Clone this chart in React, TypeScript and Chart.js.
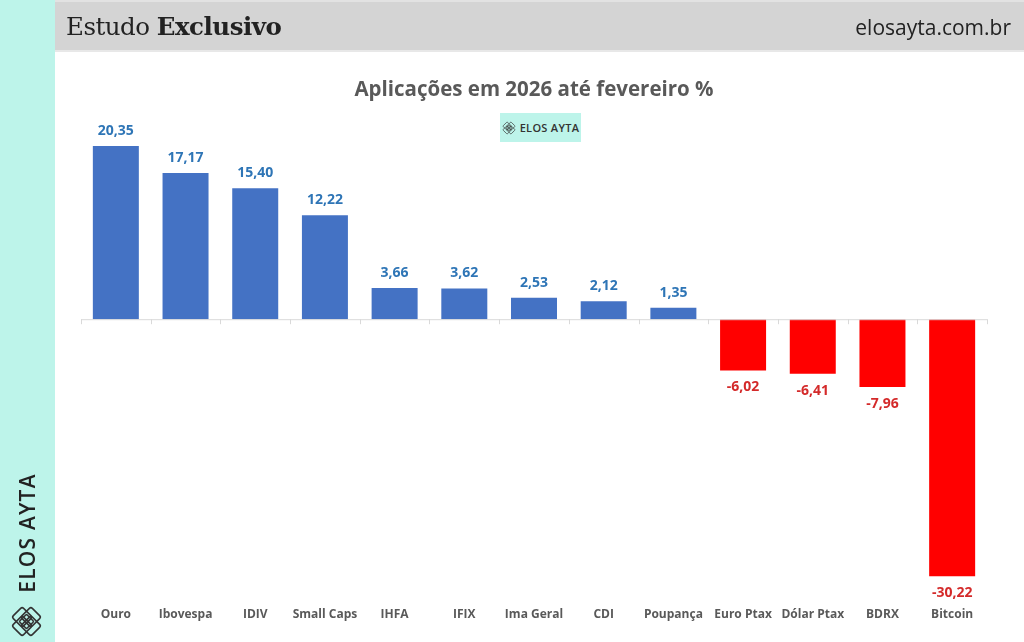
import React, { useEffect, useRef } from "react";
import { Chart, registerables } from "chart.js";

Chart.register(...registerables);

const categories = [
  "Ouro",
  "Ibovespa",
  "IDIV",
  "Small Caps",
  "IHFA",
  "IFIX",
  "Ima Geral",
  "CDI",
  "Poupança",
  "Euro Ptax",
  "Dólar Ptax",
  "BDRX",
  "Bitcoin",
];
const values = [20.35, 17.17, 15.4, 12.22, 3.66, 3.62, 2.53, 2.12, 1.35, -6.02, -6.41, -7.96, -30.22];

const BLUE = "#4472c4";
const RED = "#ff0000";
const LABEL_BLUE = "#2e75b6";
const LABEL_RED = "#d42a2a";

const fmt = (v: number) => v.toFixed(2).replace(".", ",");

const Logo = ({ size }: { size: number }) => (
  <svg width={size} height={size} viewBox="0 0 32 32">
    <g fill="none" stroke="#333" strokeWidth="1.5" transform="rotate(45 16 16)">
      <rect x="9" y="3" width="14" height="14" rx="2" />
      <rect x="9" y="15" width="14" height="14" rx="2" />
      <rect x="3" y="9" width="14" height="14" rx="2" />
      <rect x="15" y="9" width="14" height="14" rx="2" />
      <rect x="11" y="11" width="10" height="10" rx="1" />
    </g>
  </svg>
);

export default function App() {
  const ref = useRef<HTMLCanvasElement | null>(null);

  useEffect(() => {
    if (!ref.current) return;
    const axisPlugin = {
      id: "zeroAxis",
      afterDatasetsDraw(chart: any) {
        const { ctx, chartArea, scales } = chart;
        const y0 = scales.y.getPixelForValue(0);
        ctx.save();
        ctx.strokeStyle = "#d9d9d9";
        ctx.lineWidth = 1;
        ctx.beginPath();
        ctx.moveTo(chartArea.left, y0 + 0.5);
        ctx.lineTo(chartArea.right, y0 + 0.5);
        const n = categories.length;
        const w = (chartArea.right - chartArea.left) / n;
        for (let i = 0; i <= n; i++) {
          const x = Math.round(chartArea.left + i * w) + 0.5;
          ctx.moveTo(x, y0);
          ctx.lineTo(x, y0 + 5);
        }
        ctx.stroke();
        // data labels
        const meta = chart.getDatasetMeta(0);
        ctx.font = "bold 14px 'Open Sans'";
        ctx.textAlign = "center";
        ctx.textBaseline = "middle";
        meta.data.forEach((bar: any, i: number) => {
          const v = values[i];
          if (v >= 0) {
            ctx.fillStyle = LABEL_BLUE;
            ctx.fillText(fmt(v), bar.x, bar.y - 15);
          } else {
            ctx.fillStyle = LABEL_RED;
            ctx.fillText(fmt(v), bar.x, bar.y + 17);
          }
        });
        ctx.restore();
      },
    };

    const chart = new Chart(ref.current, {
      type: "bar",
      data: {
        labels: categories,
        datasets: [
          {
            data: values,
            backgroundColor: values.map((v) => (v >= 0 ? BLUE : RED)),
            barPercentage: 0.66,
            categoryPercentage: 1,
          },
        ],
      },
      options: {
        animation: false,
        responsive: false,
        layout: { padding: { left: 81, right: 37, top: 132, bottom: 0 } },
        plugins: { legend: { display: false }, tooltip: { enabled: false }, title: { display: false } },
        scales: {
          x: {
            grid: { display: false, drawTicks: false },
            border: { display: false },
            ticks: {
              color: "#595959",
              font: { family: "'Open Sans'", size: 12, weight: 700 },
              padding: 7,
              maxRotation: 0,
              autoSkip: false,
            },
            afterFit: (scale: any) => {
              scale.height = 42;
            },
          },
          y: {
            display: false,
            min: -33,
            max: 22,
          },
        },
      },
      plugins: [axisPlugin],
    });
    return () => chart.destroy();
  }, []);

  return (
    <div
      style={{
        position: "fixed",
        left: 0,
        top: 0,
        width: 1024,
        height: 642,
        background: "#ffffff",
        overflow: "hidden",
        fontFamily: "'Open Sans', sans-serif",
      }}
    >
      <div style={{ position: "absolute", left: 0, top: 0, width: 55, height: 642, background: "#bdf4ea" }} />
      <div
        style={{
          position: "absolute",
          left: 55,
          top: 0,
          width: 969,
          height: 52,
          background: "#d4d4d4",
          borderTop: "2px solid #e2e2e2",
          borderBottom: "2px solid #e8e8e8",
          boxSizing: "border-box",
        }}
      />
      <canvas ref={ref} width={1024} height={642} style={{ position: "absolute", left: 0, top: 0, width: 1024, height: 642 }} />
      <div
        style={{
          position: "absolute",
          left: 66,
          top: 9,
          fontFamily: "'DejaVu Serif', serif",
          fontSize: 24.5,
          color: "#222",
          whiteSpace: "nowrap",
          lineHeight: "36px",
          letterSpacing: -0.5,
        }}
      >
        Estudo <b>Exclusivo</b>
      </div>
      <div
        style={{
          position: "absolute",
          right: 13,
          top: 12,
          fontSize: 21,
          color: "#222",
          whiteSpace: "nowrap",
          lineHeight: "30px",
        }}
      >
        elosayta.com.br
      </div>
      <div
        style={{
          position: "absolute",
          left: 81,
          width: 906,
          top: 73,
          textAlign: "center",
          fontSize: 20.5,
          fontWeight: 700,
          color: "#595959",
          lineHeight: "30px",
        }}
      >
        Aplicações em 2026 até fevereiro %
      </div>
      <div
        style={{
          position: "absolute",
          left: 500,
          top: 113,
          width: 81,
          height: 29,
          background: "#bdf4ea",
          display: "flex",
          alignItems: "center",
          justifyContent: "center",
          gap: 4,
        }}
      >
        <Logo size={14} />
        <span style={{ fontSize: 11, fontWeight: 600, color: "#333", letterSpacing: 0.3 }}>ELOS AYTA</span>
      </div>
      <div
        style={{
          position: "absolute",
          left: 27,
          top: 533,
          transform: "translate(-50%, -50%) rotate(-90deg)",
          fontSize: 21,
          fontWeight: 600,
          color: "#222",
          whiteSpace: "nowrap",
          letterSpacing: 1.2,
          lineHeight: "24px",
        }}
      >
        ELOS AYTA
      </div>
      <div style={{ position: "absolute", left: 10, top: 605 }}>
        <Logo size={33} />
      </div>
    </div>
  );
}
